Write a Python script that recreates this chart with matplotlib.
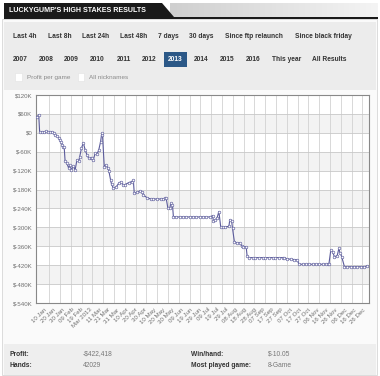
import matplotlib
matplotlib.use("Agg")
import matplotlib.pyplot as plt
import numpy as np
from matplotlib.patches import Rectangle, Polygon

plt.rcParams['font.family'] = ['Liberation Sans', 'DejaVu Sans']

# ---------------- data ----------------
days = [1, 3, 4, 7, 9, 11, 13, 15, 18, 20, 21, 23, 25, 26, 27, 29, 30, 31, 32, 34,
        36, 37, 39, 41, 43, 45, 47, 48, 50, 52, 54, 56, 58, 60, 61, 63, 65, 67, 69, 71,
        72, 73, 75, 77, 79, 80, 82, 83, 85, 88, 91, 93, 96, 98, 102, 105, 107, 108, 111, 114,
        117, 118, 122, 126, 129, 133, 137, 140, 142, 143, 145, 147, 148, 150, 151, 154, 158, 162, 165, 169,
        173, 176, 180, 184, 187, 191, 194, 195, 197, 199, 201, 203, 206, 208, 212, 213, 215, 216, 218, 221,
        224, 226, 228, 231, 232, 234, 238, 241, 245, 249, 252, 256, 260, 263, 267, 271, 273, 276, 280, 284,
        287, 289, 293, 297, 300, 304, 308, 311, 315, 319, 321, 322, 324, 326, 328, 331, 333, 334, 336, 339,
        342, 346, 350, 353, 357, 361, 364]
profit_k = [50, 57, 2, 4, 3, 5, 3, 4, 2, 0, -7, -10, -17, -22, -28, -38, -44, -46, -91, -97,
            -113, -102, -118, -105, -118, -86, -91, -76, -49, -31, -54, -70, -81, -81, -80, -86, -65, -68, -54, -28,
            -7, -2, -107, -102, -113, -120, -150, -163, -175, -172, -160, -156, -165, -164, -158, -155, -151, -192, -189, -185,
            -189, -197, -206, -210, -210, -210, -210, -209, -208, -206, -240, -240, -224, -228, -266, -267, -267, -267, -267, -267,
            -267, -267, -267, -267, -267, -267, -263, -280, -276, -270, -250, -298, -298, -298, -297, -276, -280, -303, -345, -350,
            -349, -359, -361, -362, -390, -396, -396, -396, -396, -396, -396, -396, -396, -396, -396, -396, -396, -400, -401, -402,
            -403, -417, -417, -417, -417, -417, -417, -417, -417, -417, -417, -415, -372, -378, -393, -390, -366, -380, -393, -425,
            -425, -425, -425, -425, -425, -425, -422.418]

xtick_days = [9, 19, 29, 39, 49, 59, 69, 79, 89, 99, 109, 119, 129, 139, 149, 159, 169, 179,
              189, 199, 209, 219, 229, 239, 249, 259, 269, 279, 289, 299, 309, 319, 329, 339, 349, 359]
xtick_labels = ["10 Jan", "20 Jan", "30 Jan", "09 Feb", "19 Feb", "Mar 2013", "11 Mar", "21 Mar",
                "31 Mar", "10 Apr", "20 Apr", "30 Apr", "10 May", "20 May", "30 May", "09 Jun",
                "19 Jun", "29 Jun", "09 Jul", "19 Jul", "29 Jul", "08 Aug", "18 Aug", "28 Aug",
                "07 Sep", "17 Sep", "27 Sep", "07 Oct", "17 Oct", "27 Oct", "06 Nov", "16 Nov",
                "26 Nov", "06 Dec", "16 Dec", "26 Dec"]
ytick_vals = [120, 60, 0, -60, -120, -180, -240, -300, -360, -420, -480, -540]
ytick_labels = ["$120K", "$60K", "$0", "$-60K", "$-120K", "$-180K", "$-240K", "$-300K",
                "$-360K", "$-420K", "$-480K", "$-540K"]

range_row1 = ["Last 4h", "Last 8h", "Last 24h", "Last 48h", "7 days", "30 days",
              "Since ftp relaunch", "Since black friday"]
range_row2 = ["2007", "2008", "2009", "2010", "2011", "2012", "2013", "2014", "2015",
              "2016", "This year", "All Results"]
checkbox_labels = ["Profit per game", "All nicknames"]
stats_labels = ["Profit:", "Hands:", "Win/hand:", "Most played game:"]
stats_values = ["-$422,418", "42029", "$-10.05", "8-Game"]

# ---------------- figure ----------------
W, H = 380, 376
fig = plt.figure(figsize=(W / 100, H / 100), dpi=100)
fig.patch.set_facecolor('#ffffff')

def fx(x):
    return x / W

def fy(y):
    return 1 - y / H

def rect(x0, y0, x1, y1, fc, ec='none', lw=0, z=-5):
    fig.patches.append(Rectangle((fx(x0), fy(y1)), fx(x1) - fx(x0), fy(y0) - fy(y1),
                                 transform=fig.transFigure, facecolor=fc, edgecolor=ec,
                                 linewidth=lw, zorder=z))

# page frame
rect(2, 19, 377, 375, '#fafafa', ec='#d6d6d6', lw=0.6, z=-10)
# title bar
grad = np.linspace(0, 1, 200).reshape(1, -1)
gax = fig.add_axes([fx(170), fy(17), fx(378) - fx(170), fy(3) - fy(17)])
gax.imshow(grad, aspect='auto', cmap=matplotlib.colors.LinearSegmentedColormap.from_list(
    'g', ['#cfcfcf', '#f4f4f4']), extent=[0, 1, 0, 1])
gax.axis('off')
gax.set_zorder(-3)
fig.patches.append(Polygon([[fx(4), fy(3)], [fx(162), fy(3)], [fx(174), fy(17)], [fx(4), fy(17)]],
                           closed=True, transform=fig.transFigure, facecolor='#1a1a1a',
                           edgecolor='none', zorder=2))
rect(4, 17, 378, 19, '#1a1a1a', z=2)
fig.text(fx(9), fy(10.5), "LUCKYGUMP'S HIGH STAKES RESULTS", color='white', fontsize=5.1,
         fontweight='bold', ha='left', va='center', zorder=3)

# top control panel
rect(4, 22, 376, 90, '#ececec')
row1_x = [12.7, 47.7, 81.7, 120, 158.3, 189.3, 225.3, 295.3]
for t, x in zip(range_row1, row1_x):
    fig.text(fx(x), fy(37), t, fontsize=4.75, fontweight='bold', color='#333333',
             ha='left', va='center')
row2_x = [13.3, 39, 64.3, 90, 116.7, 142.3, 168.3, 194.3, 220, 245.7, 272.3, 312.3]
for t, x in zip(range_row2, row2_x):
    col = '#333333'
    if t == "2013":
        rect(164, 51.5, 186.7, 66.5, '#2b5887', z=1)
        col = 'white'
    fig.text(fx(x), fy(59.3), t, fontsize=4.75, fontweight='bold', color=col,
             ha='left', va='center', zorder=3)
for t, bx in zip(checkbox_labels, [15, 77.7]):
    rect(bx, 73.5, bx + 6.5, 80.5, '#ffffff', ec='#e2e2e2', lw=0.4, z=1)
    fig.text(fx(bx + 11.7), fy(77.3), t, fontsize=4.6, color='#8a8a8a', ha='left', va='center')

# bottom stats panel
rect(4, 344, 376, 375, '#eeeeee')
rect(4, 343.5, 376, 344.2, '#dddddd')
for t, (x, y) in zip(stats_labels, [(10, 354), (10, 365.7), (191, 354), (191, 365.7)]):
    fig.text(fx(x), fy(y), t, fontsize=4.8, fontweight='bold', color='#333333',
             ha='left', va='center')
for t, (x, y) in zip(stats_values, [(83, 354), (83, 365.7), (268, 354), (268, 365.7)]):
    fig.text(fx(x), fy(y), t, fontsize=4.8, color='#777777', ha='left', va='center')

# ---------------- chart ----------------
ax = fig.add_axes([fx(36), fy(303), fx(369) - fx(36), fy(95) - fy(303)])
ax.set_zorder(5)
ax.set_facecolor('#ffffff')
ax.set_xlim(0, 366)
ax.set_ylim(-540, 120)
for i in range(len(ytick_vals) - 1):
    if i % 2 == 1:
        ax.axhspan(ytick_vals[i + 1], ytick_vals[i], color='#f3f3f3', zorder=0, lw=0)
ax.set_yticks(ytick_vals)
ax.set_yticklabels(ytick_labels)
ax.set_xticks(xtick_days)
ax.set_xticklabels(xtick_labels, rotation=45, ha='right', va='top', rotation_mode='anchor')
ax.set_xticks(np.arange(14.6, 366, 11.87), minor=True)
ax.tick_params(axis='both', which='both', length=0, labelsize=4.4, labelcolor='#707070')
ax.tick_params(axis='x', pad=3)
ax.tick_params(axis='y', pad=2.5)
ax.grid(False)
ax.grid(True, which='minor', axis='x', color='#d2d2d2', lw=0.6, zorder=1)
ax.grid(True, which='major', axis='y', color='#c8c8c8', lw=0.6, zorder=1)
ax.set_axisbelow(True)
for s in ax.spines.values():
    s.set_color('#888888')
    s.set_linewidth(0.8)

ax.plot(days, profit_k, color='#5b5b9b', lw=0.8, marker='o', markersize=1.9,
        markerfacecolor='white', markeredgecolor='#5b5b9b', markeredgewidth=0.45, zorder=3)

fig.savefig('out.png', dpi=100, facecolor=fig.get_facecolor())
